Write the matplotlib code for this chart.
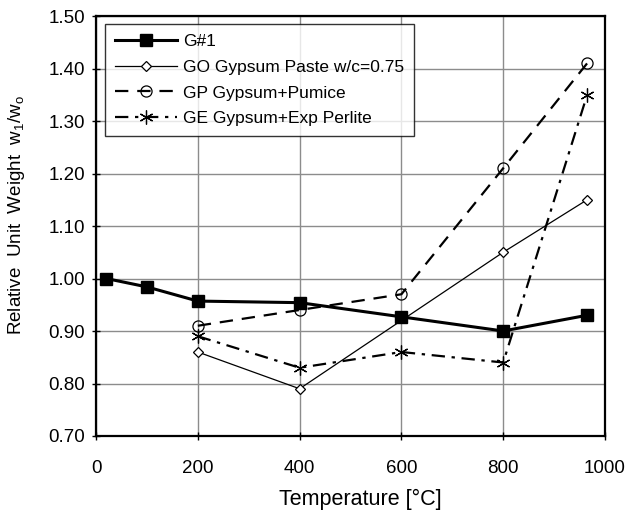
import matplotlib
matplotlib.use("Agg")
from matplotlib import pyplot as plt

plt.rcParams['font.family'] = ['Liberation Sans', 'DejaVu Sans']

# data
g1_temp = [20, 100, 200, 400, 600, 800, 965]
g1_ratio = [1.00, 0.984, 0.957, 0.954, 0.927, 0.900, 0.930]

go_temp = [200, 400, 800, 965]
go_ratio = [0.86, 0.79, 1.05, 1.15]

gp_temp = [200, 400, 600, 800, 965]
gp_ratio = [0.91, 0.94, 0.97, 1.21, 1.41]

ge_temp = [200, 400, 600, 800, 965]
ge_ratio = [0.89, 0.83, 0.86, 0.84, 1.35]

labels = ["G#1", "GO Gypsum Paste w/c=0.75", "GP Gypsum+Pumice",
          "GE Gypsum+Exp Perlite"]

fig = plt.figure(figsize=(6.3, 5.15), dpi=100)
ax = fig.add_axes([0.1524, 0.1534, 0.8079, 0.8155])

ax.plot(g1_temp, g1_ratio, color='black', lw=2.2, marker='s', ms=8,
        label=labels[0])
ax.plot(go_temp, go_ratio, color='black', lw=0.9, marker='D', ms=5,
        mfc='white', mew=0.9, label=labels[1])
ax.plot(gp_temp, gp_ratio, color='black', lw=1.6, ls=(0, (6, 4)),
        marker='o', ms=8, mfc='none', mew=0.9, label=labels[2])
ax.plot(ge_temp, ge_ratio, color='black', lw=1.6, ls=(0, (6, 3, 1.5, 3)),
        marker=(6, 2, 0), ms=10, mew=0.9, label=labels[3])

ax.set_xlim(0, 1000)
ax.set_ylim(0.70, 1.50)
ax.set_xticks(range(0, 1001, 200))
ax.set_yticks([0.70 + 0.1 * i for i in range(9)])
ax.set_yticklabels([f"{0.70 + 0.1 * i:.2f}" for i in range(9)])
ax.grid(True, color='#8c8c8c', lw=1.0)
ax.set_axisbelow(True)
for sp in ax.spines.values():
    sp.set_linewidth(1.6)
ax.tick_params(labelsize=13.5, direction='inout', length=6, width=1)
ax.tick_params(axis='y', pad=5)
ax.tick_params(axis='x', pad=14)

ax.set_xlabel("Temperature [°C]", fontsize=15.5)
ax.xaxis.set_label_coords(0.519, -0.125)
ax.set_ylabel("Relative  Unit  Weight  w$_\\mathregular{1}$/w$_\\mathregular{o}$",
              fontsize=13.5)
ax.yaxis.set_label_coords(-0.135, 0.526)

leg = ax.legend(loc='upper left', bbox_to_anchor=(0.0177, 0.981),
                borderaxespad=0, fontsize=12.5, frameon=True, fancybox=False,
                edgecolor='black', handlelength=3.6, handletextpad=0.35,
                borderpad=0.55, labelspacing=0.62)
leg.get_frame().set_linewidth(1.0)

fig.savefig("out.png", dpi=100)
